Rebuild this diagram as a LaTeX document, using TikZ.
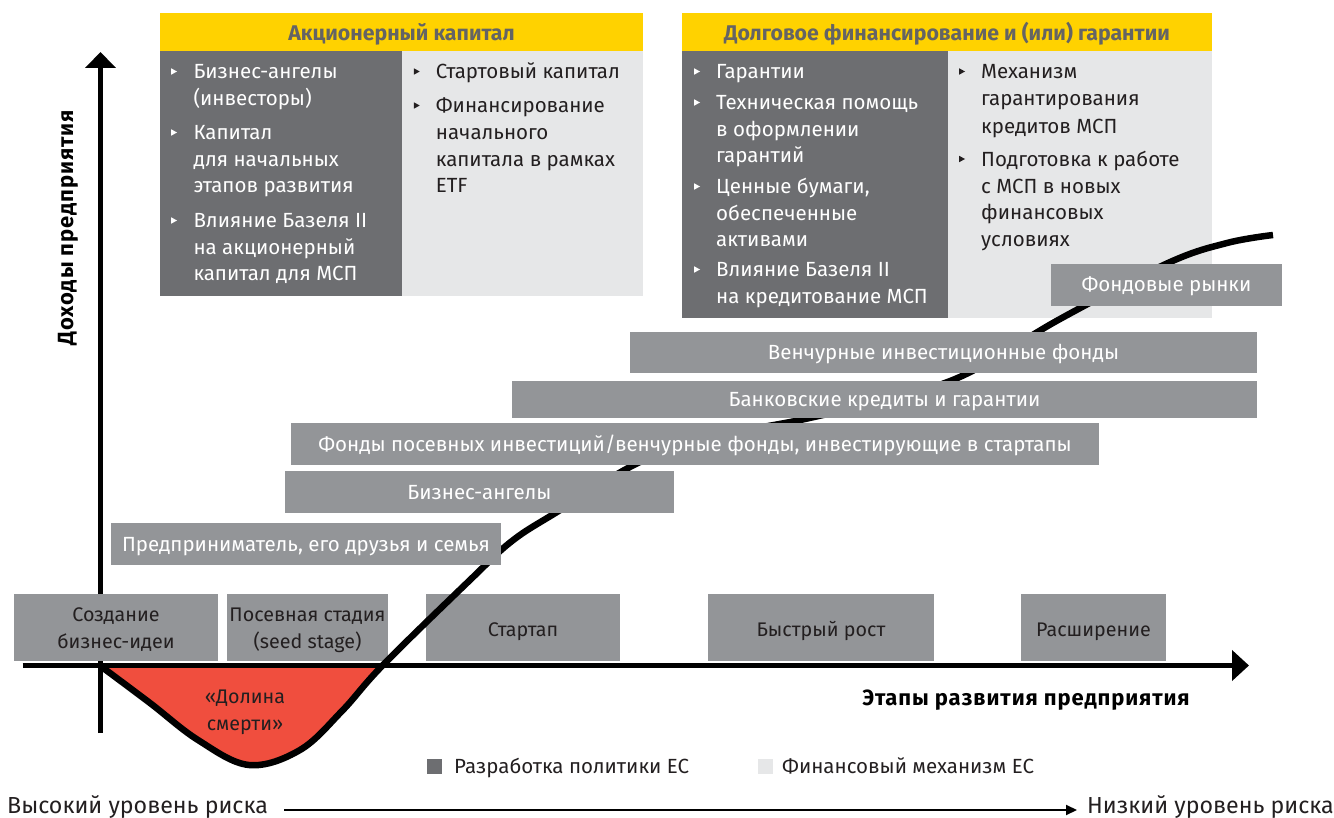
\documentclass[tikz,border=0pt]{standalone}
\usepackage{fontspec}
\setmainfont{Fira Sans}
\usetikzlibrary{arrows.meta}
\definecolor{eyyellow}{RGB}{255,210,0}
\definecolor{darkcol}{RGB}{109,110,113}
\definecolor{lightcol}{RGB}{230,231,232}
\definecolor{bargray}{RGB}{147,149,152}
\definecolor{valleyred}{RGB}{240,78,62}
\definecolor{txtdark}{RGB}{35,31,32}
\definecolor{hdrgray}{RGB}{100,100,100}
\newcommand\mybullet[3]{\fill[#3] (#1-2.8,#2-3.2) -- (#1-2.8,#2+3.2) -- (#1+3,#2) -- cycle;}
\tikzset{
  panel/.style={inner sep=0pt, outer sep=0pt, anchor=north west},
  hdr/.style={inner sep=0pt, anchor=base, font=\fontsize{21.3}{24}\selectfont\bfseries, text=hdrgray},
  pw/.style={inner sep=0pt, anchor=base west, font=\fontsize{20.5}{26}\selectfont, text=white},
  pd/.style={inner sep=0pt, anchor=base west, font=\fontsize{20.5}{26}\selectfont, text=txtdark},
  bar/.style={fill=bargray, inner sep=0pt, outer sep=0pt, text=white, font=\fontsize{20.5}{26}\selectfont, text height=14pt, text depth=0pt},
  stagebox/.style={fill=bargray, inner sep=0pt, outer sep=0pt, minimum height=67pt},
  stt/.style={inner sep=0pt, anchor=base, font=\fontsize{19.7}{26}\selectfont, text=txtdark},
  axlbl/.style={inner sep=0pt, anchor=base, font=\fontsize{22}{26}\selectfont\bfseries\addfontfeatures{LetterSpace=4}, text=black},
  plain/.style={inner sep=0pt, anchor=base west, font=\fontsize{20.5}{26}\selectfont, text=txtdark},
  risk/.style={inner sep=0pt, font=\fontsize{23.2}{26}\selectfont, text=txtdark},
}
\begin{document}
\begin{tikzpicture}[x=1pt,y=-1pt]
\useasboundingbox (0,0) rectangle (1334,818);

% ---------- top-left panel ----------
\node[panel, fill=eyyellow, minimum width=483pt, minimum height=38pt] (eqh) at (160,13) {};
\node[panel, fill=darkcol, minimum width=242pt, minimum height=245pt] (eqd) at (160,51) {};
\node[panel, fill=lightcol, minimum width=241pt, minimum height=245pt] (eql) at (402,51) {};
\node[hdr] (eqt) at (401.5,41) {Акционерный капитал};

\mybullet{174}{71.5}{white}
\mybullet{174}{132.5}{white}
\mybullet{174}{220.5}{white}
\node[pw] (a1) at (193.3,79) {Бизнес-ангелы};
\node[pw] (a2) at (193.3,105.7) {(инвесторы)};
\node[pw] (a3) at (193.3,140) {Капитал};
\node[pw] (a4) at (193.3,166.7) {для начальных};
\node[pw] (a5) at (193.3,193) {этапов развития};
\node[pw] (a6) at (193.3,228) {Влияние Базеля II};
\node[pw] (a7) at (193.3,254.5) {на акционерный};
\node[pw] (a8) at (193.3,281) {капитал для МСП};

\mybullet{416.7}{71.5}{txtdark}
\mybullet{416.7}{105.5}{txtdark}
\node[pd] (b1) at (435.7,79) {Стартовый капитал};
\node[pd] (b2) at (435.7,113) {Финансирование};
\node[pd] (b3) at (435.7,140) {начального};
\node[pd] (b4) at (435.7,166.7) {капитала в рамках};
\node[pd] (b5) at (435.7,193) {ETF};

% ---------- top-right panel ----------
\node[panel, fill=eyyellow, minimum width=530pt, minimum height=38pt] (dbh) at (682,13) {};
\node[panel, fill=darkcol, minimum width=266pt, minimum height=267pt] (dbd) at (682,51) {};
\node[panel, fill=lightcol, minimum width=264pt, minimum height=267pt] (dbl) at (948,51) {};
\node[hdr] (dbt) at (947,41) {Долговое финансирование и (или) гарантии};

\mybullet{697}{71.5}{white}
\mybullet{697}{102.5}{white}
\mybullet{697}{186.5}{white}
\mybullet{697}{269.5}{white}
\node[pw] (c1) at (716,79) {Гарантии};
\node[pw] (c2) at (716,110) {Техническая помощь};
\node[pw] (c3) at (716,136.7) {в оформлении};
\node[pw] (c4) at (716,163) {гарантий};
\node[pw] (c5) at (716,194) {Ценные бумаги,};
\node[pw] (c6) at (716,220.7) {обеспеченные};
\node[pw] (c7) at (716,247) {активами};
\node[pw] (c8) at (716,277) {Влияние Базеля II};
\node[pw] (c9) at (716,304) {на кредитование МСП};

\mybullet{962}{71.5}{txtdark}
\mybullet{962}{159}{txtdark}
\node[pd] (d1) at (981,79) {Механизм};
\node[pd] (d2) at (981,106) {гарантирования};
\node[pd] (d3) at (981,133.3) {кредитов МСП};
\node[pd] (d4) at (981,166.7) {Подготовка к работе};
\node[pd] (d5) at (981,193.3) {с МСП в новых};
\node[pd] (d6) at (981,220) {финансовых};
\node[pd] (d7) at (981,247) {условиях};

% ---------- valley of death fill ----------
\begin{scope}
\clip (100.5,665.5) rectangle (400,800);
\fill[valleyred] plot[smooth, tension=0.6] coordinates {(100.5,666) (150,703) (198,740) (249,765) (300,750) (342,711) (383,665) (470,580) (512,541) (557,512) (640,462) (720,436) (805,419) (880,401) (962,376) (1060,319) (1168,263) (1227,243) (1273,235)} -- cycle;
\end{scope}
\node[stt] (v1) at (245,703.3) {«Долина};
\node[stt] (v2) at (245,730) {смерти»};

% ---------- axes ----------
\coordinate (yb) at (100.5,733);
\coordinate (yt) at (100.5,52);
\coordinate (xl) at (22.5,665.5);
\coordinate (xr) at (1249,665.5);
\draw[line width=5pt, -{Triangle[width=30pt,length=16pt]}] (yb) -- (yt);
\draw[line width=5pt, -{Triangle[width=30pt,length=17pt]}] (xl) -- (xr);
\node[axlbl, rotate=90] (ylab) at (73,228) {Доходы предприятия};
\node[axlbl] (xlab) at (1026,705) {Этапы развития предприятия};

% ---------- stage boxes ----------
\node[stagebox, minimum width=204pt] (s1) at (116,627.5) {};
\node[stagebox, minimum width=161pt] (s2) at (307.5,627.5) {};
\node[stagebox, minimum width=194pt] (s3) at (523,627.5) {};
\node[stagebox, minimum width=226pt] (s4) at (821,627.5) {};
\node[stagebox, minimum width=145pt] (s5) at (1093.5,627.5) {};
\node[stt] (s1a) at (116,621.7) {Создание};
\node[stt] (s1b) at (116,648) {бизнес-идеи};
\node[stt] (s2a) at (307.5,621.7) {Посевная стадия};
\node[stt] (s2b) at (307.5,648) {(seed stage)};
\node[stt] (s3a) at (523,636) {Стартап};
\node[stt] (s4a) at (821,636) {Быстрый рост};
\node[stt] (s5a) at (1093.5,636) {Расширение};

% ---------- S-curve ----------
\draw[line width=6.5pt] plot[smooth, tension=0.6] coordinates {(100.5,666) (150,703) (198,740) (249,765) (300,750) (342,711) (383,665) (470,580) (512,541) (557,512) (640,462) (720,436) (805,419) (880,401) (962,376) (1060,319) (1168,263) (1227,243) (1273,235)};

% ---------- financing bars ----------
\node[bar, minimum width=231pt, minimum height=42pt] (fr) at (1166.5,285) {Фондовые рынки};
\node[bar, minimum width=627pt, minimum height=41pt] (vc) at (943.5,352.5) {Венчурные инвестиционные фонды};
\node[bar, minimum width=745pt, minimum height=37pt] (bk) at (884.5,399.5) {Банковские кредиты и гарантии};
\node[bar, minimum width=808pt, minimum height=42pt] (fp) at (695,444) {Фонды посевных инвестиций/венчурные фонды, инвестирующие в стартапы};
\node[bar, minimum width=389pt, minimum height=42pt] (ba) at (479.5,492) {Бизнес-ангелы};
\node[bar, minimum width=390pt, minimum height=42pt] (pr) at (306,544) {Предприниматель, его друзья и семья};

% ---------- legend ----------
\node[fill=darkcol, minimum size=15pt, inner sep=0pt] (lg1) at (434.5,766) {};
\node[plain] (lg1t) at (454,773) {Разработка политики ЕС};
\node[fill=lightcol, minimum size=15pt, inner sep=0pt] (lg2) at (765.5,766) {};
\node[plain] (lg2t) at (782,773) {Финансовый механизм ЕС};

% ---------- risk arrow ----------
\node[risk, anchor=base west] (hr) at (7,813) {Высокий уровень риска};
\node[risk, anchor=base east] (lr) at (1334,813) {Низкий уровень риска};
\coordinate (r1) at (284,810);
\coordinate (r2) at (1077,810);
\draw[line width=2pt, -{Triangle[width=10pt,length=11pt]}] (r1) -- (r2);
\end{tikzpicture}
\end{document}
